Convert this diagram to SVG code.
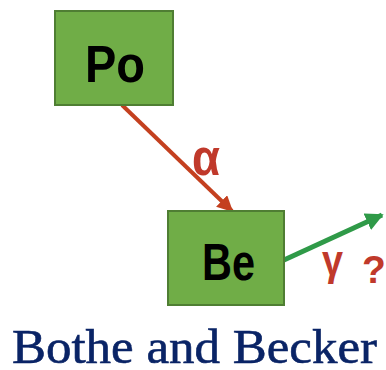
<svg xmlns="http://www.w3.org/2000/svg" width="386" height="370" viewBox="0 0 386 370">
  <style>
    .box { fill: #70ad47; stroke: #4f7e33; stroke-width: 2; }
    .sym { font-family: "Liberation Sans", Arial, sans-serif; font-weight: bold; font-size: 52px; fill: #000; }
    .lbl { font-family: "Liberation Sans", Arial, sans-serif; font-weight: bold; fill: #c0392b; }
    .title { font-family: "Liberation Serif", "Times New Roman", serif; font-size: 48px; fill: #0a2466; stroke: #0a2466; stroke-width: 0.6; }
  </style>
  <defs>
    <marker id="headRed" viewBox="0 0 10 10" refX="9" refY="5" markerWidth="4" markerHeight="4" orient="auto" markerUnits="strokeWidth">
      <path d="M0,0 L10,5 L0,10 z" fill="#c4401f"/>
    </marker>
    <marker id="headGreen" viewBox="0 0 10 10" refX="9" refY="5" markerWidth="3.6" markerHeight="3.6" orient="auto" markerUnits="strokeWidth">
      <path d="M0,0 L10,5 L0,10 z" fill="#2f9a48"/>
    </marker>
  </defs>

  <rect width="386" height="370" fill="#fff"/>

  <g id="connectors">
    <line x1="122" y1="105" x2="232" y2="211" stroke="#c4401f" stroke-width="4" marker-end="url(#headRed)"/>
    <line x1="284" y1="260" x2="382" y2="215" stroke="#2f9a48" stroke-width="5" marker-end="url(#headGreen)"/>
    <text class="lbl" x="192" y="175" font-size="52" textLength="28" lengthAdjust="spacingAndGlyphs">α</text>
    <text class="lbl" x="322" y="275" font-size="42" textLength="21" lengthAdjust="spacingAndGlyphs">γ</text>
    <text class="lbl" x="362" y="283" font-size="39">?</text>
  </g>

  <g id="node-po">
    <rect class="box" x="55" y="11" width="118" height="94"/>
    <text class="sym" x="85" y="82" textLength="60" lengthAdjust="spacingAndGlyphs">Po</text>
  </g>

  <g id="node-be">
    <rect class="box" x="168" y="211" width="116" height="94"/>
    <text class="sym" x="202" y="280" textLength="53" lengthAdjust="spacingAndGlyphs">Be</text>
  </g>

  <text class="title" x="12" y="363" textLength="365" lengthAdjust="spacingAndGlyphs">Bothe and Becker</text>
</svg>
